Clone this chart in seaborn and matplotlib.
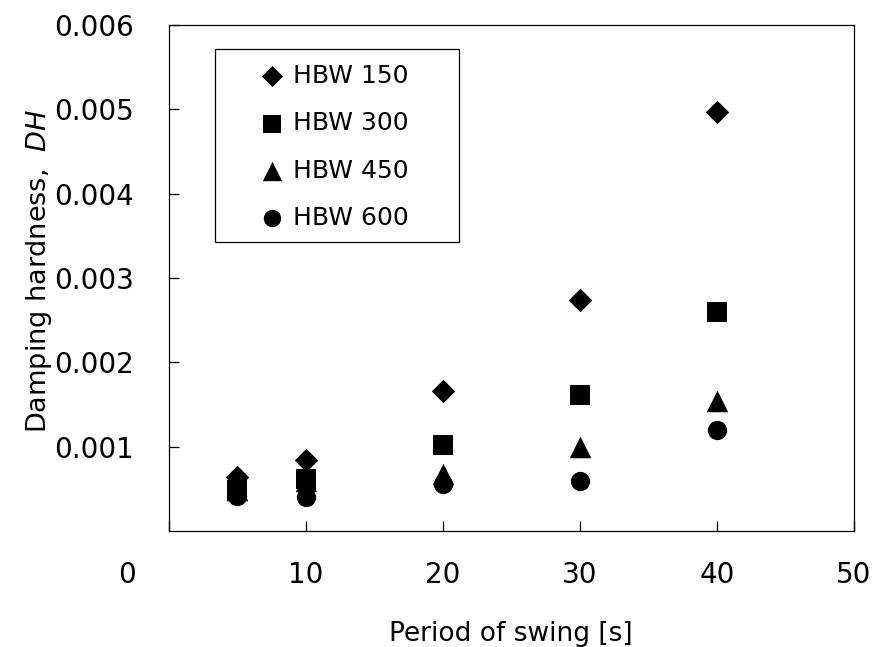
import matplotlib
matplotlib.use("Agg")
import matplotlib.pyplot as plt
import matplotlib.transforms as mtransforms
from matplotlib.patches import Rectangle
import numpy as np
import pandas as pd
import seaborn as sns

# Swing period [s] and damping hardness for each Brinell hardness grade
period = [5, 10, 20, 30, 40]
grades = ["HBW 150", "HBW 300", "HBW 450", "HBW 600"]
dh_150 = [0.00064, 0.00084, 0.00166, 0.00274, 0.00497]
dh_300 = [0.00049, 0.00061, 0.00102, 0.00161, 0.00259]
dh_450 = [0.00048, 0.00059, 0.00067, 0.00100, 0.00154]
dh_600 = [0.00042, 0.00040, 0.00056, 0.00059, 0.00120]

x_ticks = [0, 10, 20, 30, 40, 50]
y_ticks = [0.001, 0.002, 0.003, 0.004, 0.005, 0.006]

markers = {"HBW 150": "D", "HBW 300": "s", "HBW 450": "^", "HBW 600": "o"}
sizes = {"HBW 150": 143, "HBW 300": 207, "HBW 450": 240, "HBW 600": 193}

df = pd.DataFrame({
    "period": period * 4,
    "dh": dh_150 + dh_300 + dh_450 + dh_600,
    "grade": [g for g in grades for _ in period],
})

sns.set_style("ticks")
plt.rcParams["font.family"] = ["DejaVu Sans"]
plt.rcParams["mathtext.fontset"] = "dejavusans"
plt.rcParams["text.color"] = "black"
plt.rcParams["axes.labelcolor"] = "black"
plt.rcParams["xtick.color"] = "black"
plt.rcParams["ytick.color"] = "black"

fig = plt.figure(figsize=(8.73, 6.47), dpi=100)
ax = fig.add_axes([0.1931, 0.1794, 0.7851, 0.7822])

for g in grades:
    sub = df[df["grade"] == g]
    sns.scatterplot(data=sub, x="period", y="dh", ax=ax, marker=markers[g],
                    s=sizes[g], color="black", edgecolor="black",
                    linewidth=0, label=g, zorder=3)

ax.set_xlim(0, 50)
ax.set_ylim(0, 0.006)
ax.set_xticks(x_ticks)
ax.set_xticklabels([str(v) for v in x_ticks])
ax.set_yticks(y_ticks)
ax.set_yticklabels([f"{v:.3f}" for v in y_ticks])

ax.tick_params(axis="both", direction="in", length=7.5, width=0.9,
               colors="black", labelsize=20)
ax.tick_params(axis="x", pad=22)
ax.tick_params(axis="y", pad=25)

# The "0" on the x axis sits left of the corner
shift = mtransforms.ScaledTranslation(-0.416, 0, fig.dpi_scale_trans)
lbl0 = ax.get_xticklabels()[0]
lbl0.set_transform(lbl0.get_transform() + shift)

for sp in ax.spines.values():
    sp.set_visible(True)
    sp.set_linewidth(0.9)
    sp.set_color("black")

ax.set_xlabel("Period of swing [s]", fontsize=19, color="black")
ax.set_ylabel("Damping hardness,  $\\mathit{DH}$", fontsize=19.5, color="black")
ax.xaxis.set_label_coords(0.5, -0.178)
ax.yaxis.set_label_coords(-0.1676, 0.515)

# Legend entries and their surrounding box
leg = ax.legend(loc="upper left", bbox_to_anchor=(259.5 / 873, 1 - 64 / 647),
                bbox_transform=fig.transFigure, frameon=False, fontsize=18,
                borderpad=0, borderaxespad=0, handlelength=1.0,
                handletextpad=0.34, labelspacing=0.93, markerscale=0.9)
for t in leg.get_texts():
    t.set_color("black")
fig.add_artist(Rectangle((215 / 873, 1 - 242 / 647), 244 / 873, 193 / 647,
                         transform=fig.transFigure, fill=False,
                         edgecolor="black", linewidth=0.9))

fig.savefig("out.png", dpi=100)
